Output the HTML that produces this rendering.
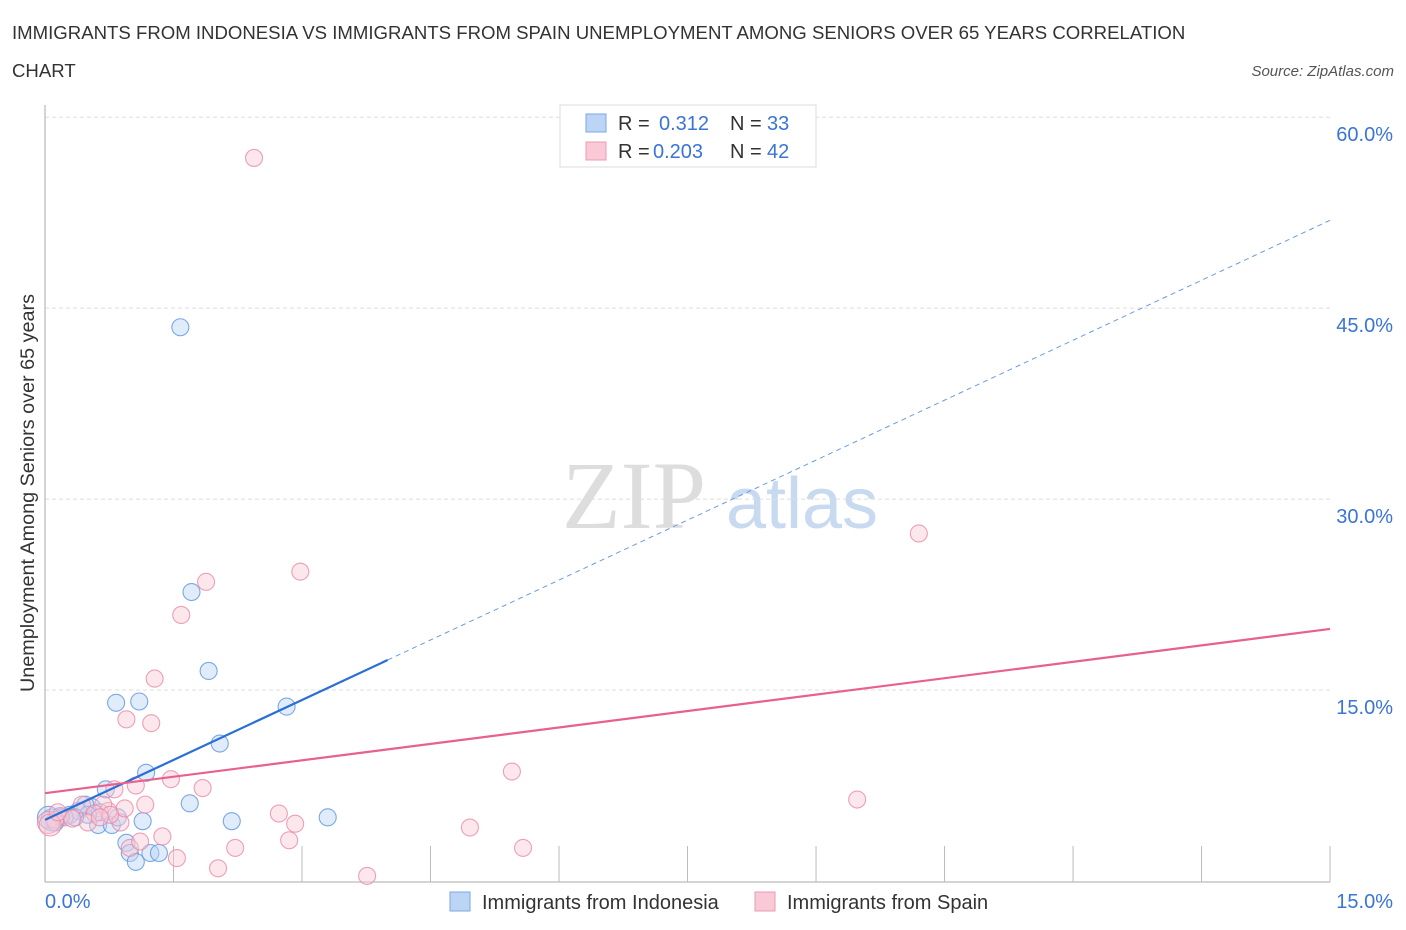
<!DOCTYPE html>
<html><head><meta charset="utf-8"><style>
body{margin:0;background:#fff;font-family:"Liberation Sans",sans-serif;}
svg{display:block}
</style></head><body>
<svg id="c" width="1406" height="930">
<text x="12" y="39" font-size="18.6" fill="#333">IMMIGRANTS FROM INDONESIA VS IMMIGRANTS FROM SPAIN UNEMPLOYMENT AMONG SENIORS OVER 65 YEARS CORRELATION</text>
<text x="12" y="77" font-size="18.6" fill="#333">CHART</text>
<text x="1394" y="76" font-size="15" fill="#555" font-style="italic" text-anchor="end">Source: ZipAtlas.com</text>
<text x="634" y="528" font-size="96" fill="#ddd" font-family="Liberation Serif,serif" text-anchor="middle">ZIP</text>
<text x="802" y="528" font-size="72" fill="#c7daf0" text-anchor="middle">atlas</text>
<text transform="translate(34,493) rotate(-90)" font-size="19.8" fill="#333" text-anchor="middle">Unemployment Among Seniors over 65 years</text>
<g id="grid"></g><g id="pts"></g><g id="lines"></g>
<g>
<rect x="560" y="105" width="256" height="62" fill="#fff" stroke="#ddd"/>
<rect x="586" y="114" width="20" height="18" fill="#bcd5f5" stroke="#7aa8e6"/>
<rect x="586" y="142" width="20" height="18" fill="#f9c9d8" stroke="#ec9ab3"/>
<text x="618" y="130" font-size="20" fill="#333">R = </text><text x="659" y="130" font-size="20" fill="#3a74d6">0.312</text>
<text x="730" y="130" font-size="20" fill="#333">N = </text><text x="767" y="130" font-size="20" fill="#3a74d6">33</text>
<text x="618" y="158" font-size="20" fill="#333">R = </text><text x="653" y="158" font-size="20" fill="#3a74d6">0.203</text>
<text x="730" y="158" font-size="20" fill="#333">N = </text><text x="767" y="158" font-size="20" fill="#3a74d6">42</text>
</g>
<g>
<rect x="450" y="892" width="20" height="19" fill="#bcd5f5" stroke="#7aa8e6"/>
<text x="482" y="909" font-size="20" fill="#333">Immigrants from Indonesia</text>
<rect x="755" y="892" width="20" height="19" fill="#f9c9d8" stroke="#ec9ab3"/>
<text x="787" y="909" font-size="20" fill="#333">Immigrants from Spain</text>
</g>
</svg>
<script>
const xTicks=[0,1.5,3,4.5,6,7.5,9,10.5,12,13.5,15];
const yTicks=[15,30,45,60];
const blueX=[1.58,1.71,1.91,0.83,1.10,2.82,2.04,1.18,1.69,2.18,3.30,0.71,1.14,0.95,0.99,1.06,1.23,1.33,0.62,0.78,0.85,0.55,0.47,0.39,0.29,0.19,0.08,0.04,0.64,0.50,0.35,0.18,0.12];
const blueY=[43.5,22.7,16.5,14.0,14.1,13.7,10.8,8.5,6.1,4.7,5.0,7.2,4.7,3.0,2.2,1.5,2.2,2.2,4.4,4.4,5.0,5.8,6.0,5.5,5.2,5.0,4.8,5.0,5.4,5.2,5.0,5.1,4.6];
const pinkX=[2.44,10.2,2.98,1.88,1.59,1.28,0.95,1.24,1.47,5.45,9.48,1.84,1.06,0.81,1.17,2.73,2.92,4.96,2.85,1.37,2.22,5.58,1.54,2.02,3.76,0.88,0.74,0.68,0.43,0.58,0.23,0.12,0.04,0.99,1.11,0.50,0.32,0.06,0.15,0.93,0.76,0.64];
const pinkY=[56.8,27.3,24.3,23.5,20.9,15.9,12.7,12.4,8.0,8.6,6.4,7.3,7.5,7.2,6.0,5.3,4.5,4.2,3.2,3.5,2.6,2.6,1.8,1.0,0.4,4.6,5.5,6.0,6.0,5.3,5.0,4.8,4.6,2.6,3.1,4.6,4.9,4.4,5.4,5.7,5.2,5.0];
const blueFit=[4.8,3.14], blueSolidEnd=4.0;
const pinkFit=[6.9,0.86];
const NS='http://www.w3.org/2000/svg';
const X=v=>45+v*85.67, Y=v=>881-v*12.73;
function mk(t,a,p){const e=document.createElementNS(NS,t);for(const k in a)e.setAttribute(k,a[k]);p.appendChild(e);return e;}
const grid=document.getElementById('grid');
yTicks.forEach(t=>{
 const l=mk('line',{x1:45,x2:1330,y1:Y(t),y2:Y(t),stroke:'#ddd','stroke-dasharray':'4,3'},grid);
 
 
 const tx=mk('text',{x:1393,y:Y(t)+24,'font-size':20,fill:'#3a74d6','text-anchor':'end'},grid);
 tx.textContent=t.toFixed(1)+'%';
 
 
});
const ax=mk('line',{x1:45,x2:45,y1:105,y2:882,stroke:'#aaa'},grid);


const bx=mk('line',{x1:45,x2:1330,y1:882,y2:882,stroke:'#aaa'},grid);


xTicks.forEach((t,i)=>{if(i==0)return;
 const l=mk('line',{x1:X(t),x2:X(t),y1:846,y2:882,stroke:'#bbb'},grid);
 
 
});
[[0,'start'],[15,'end']].forEach(([t,a])=>{
 const tx=mk('text',{x:t==0?45:1393,y:908,'font-size':20,fill:'#3a74d6','text-anchor':a},grid);
 tx.textContent=t.toFixed(1)+'%';
 
 
});
const pts=document.getElementById('pts');
function dots(xs,ys,fill,stroke,name){xs.forEach((x,i)=>{
 const c=mk('circle',{cx:X(x),cy:Y(ys[i]),r:(x<0.1?11:8.5),fill:fill,'fill-opacity':0.45,stroke:stroke,'stroke-width':1.1,'stroke-opacity':0.8},pts);
 
 
});}
dots(blueX,blueY,'#bcd5f5','#5b93e0','indonesia-point');
dots(pinkX,pinkY,'#f9c9d8','#e88aa8','spain-point');
const lines=document.getElementById('lines');
const f=(p,x)=>p[0]+p[1]*x;
const b1=mk('line',{x1:X(0),y1:Y(f(blueFit,0)),x2:X(blueSolidEnd),y2:Y(f(blueFit,blueSolidEnd)),stroke:'#2a6fd6','stroke-width':2.2},lines);


const b2=mk('line',{x1:X(blueSolidEnd),y1:Y(f(blueFit,blueSolidEnd)),x2:X(15),y2:Y(f(blueFit,15)),stroke:'#6a9be0','stroke-width':1,'stroke-dasharray':'5,4'},lines);


const p1=mk('line',{x1:X(0),y1:Y(f(pinkFit,0)),x2:X(15),y2:Y(f(pinkFit,15)),stroke:'#e8608e','stroke-width':2.2},lines);


</script>
</body></html>
